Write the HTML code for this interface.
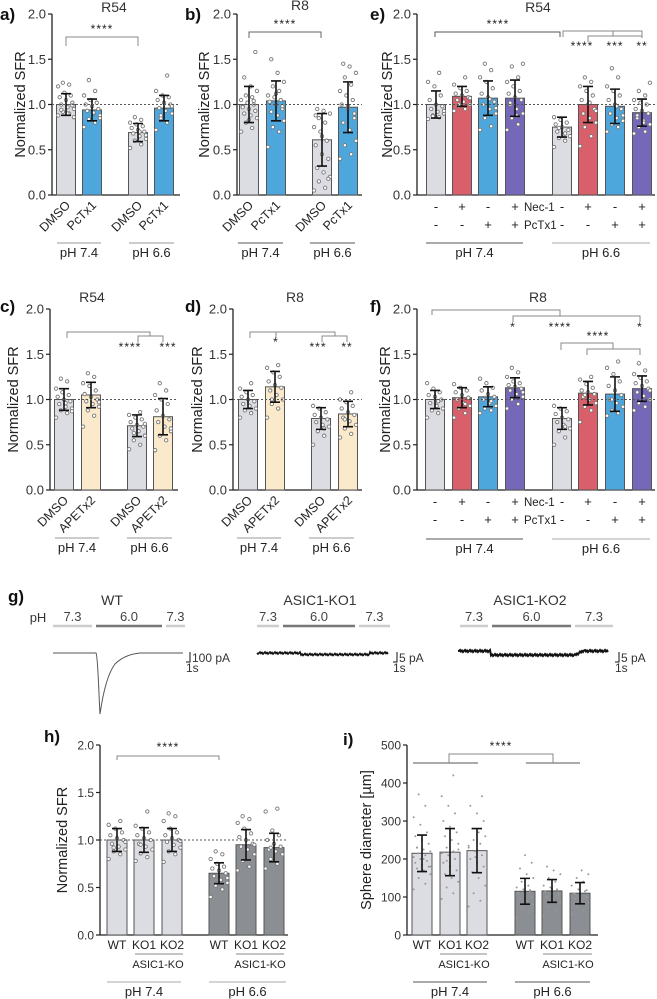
<!DOCTYPE html>
<html><head><meta charset="utf-8"><style>
html,body{margin:0;padding:0;background:#fff;}
svg{display:block;font-family:"Liberation Sans",sans-serif;}
</style></head><body>
<svg id="fig" width="657" height="999" viewBox="0 0 657 999" xmlns="http://www.w3.org/2000/svg"></svg>
<script>
// ---------- DATA ----------
const aCats=['DMSO','PcTx1','DMSO','PcTx1'];
const aMeans=[1.0,0.94,0.69,0.96];
const aSD=[0.12,0.12,0.10,0.14];
const aDots=[[0.88,0.9,0.92,0.95,0.97,1.0,1.02,1.05,1.08,1.1,1.13,1.2,1.22,1.24,0.86,0.9,0.94,0.99],[0.75,0.8,0.84,0.88,0.9,0.93,0.95,0.98,1.0,1.02,1.05,1.1,1.15,1.27,0.85,0.91],[0.52,0.56,0.6,0.62,0.65,0.68,0.7,0.72,0.74,0.76,0.78,0.8,0.83,0.86,0.66,0.7],[0.72,0.8,0.85,0.9,0.93,0.96,1.0,1.02,1.05,1.08,1.1,1.15,1.32,0.88,0.98]];
const bCats=['DMSO','PcTx1','DMSO','PcTx1'];
const bMeans=[1.0,1.04,0.61,0.97];
const bSD=[0.2,0.22,0.29,0.28];
const bDots=[[0.7,0.74,0.8,0.85,0.88,0.9,0.93,0.95,0.98,1.0,1.02,1.05,1.08,1.1,1.15,1.2,1.3,1.58,0.83,0.97,1.04],[0.53,0.7,0.75,0.82,0.88,0.92,0.95,1.0,1.03,1.05,1.08,1.1,1.15,1.2,1.25,1.35,1.5,0.98,1.12],[0.05,0.08,0.15,0.2,0.25,0.3,0.4,0.45,0.55,0.6,0.7,0.75,0.8,0.85,0.9,0.93,0.95,0.18,0.65,0.88],[0.4,0.45,0.55,0.6,0.72,0.8,0.9,0.95,1.0,1.05,1.1,1.15,1.22,1.3,1.35,1.42,1.45,0.85,0.98]];
const eNec=['-','+','-','+','-','+','-','+'];
const ePc=['-','-','+','+','-','-','+','+'];
const eMeans=[1.0,1.09,1.07,1.07,0.75,1.0,0.98,0.91];
const eSD=[0.15,0.11,0.19,0.2,0.11,0.2,0.19,0.15];
const eDots=[[0.84,0.86,0.88,0.9,0.92,0.95,0.98,1.0,1.05,1.1,1.2,1.25,1.35,0.87,0.93],[0.93,0.95,0.98,1.0,1.03,1.05,1.08,1.1,1.12,1.15,1.18,1.22,1.3,1.0,1.07],[0.72,0.76,0.85,0.9,0.95,1.0,1.03,1.08,1.12,1.18,1.25,1.3,1.38,1.45,0.96,1.06],[0.72,0.78,0.85,0.9,0.95,1.0,1.05,1.08,1.12,1.15,1.2,1.25,1.3,1.42,1.45,0.88,1.02],[0.53,0.6,0.63,0.65,0.67,0.7,0.72,0.75,0.78,0.8,0.83,0.86,0.68,0.74],[0.54,0.65,0.75,0.8,0.85,0.9,0.95,1.0,1.05,1.1,1.15,1.2,1.25,1.3,0.93,1.02],[0.7,0.75,0.78,0.82,0.85,0.9,0.95,1.0,1.05,1.1,1.15,1.2,1.3,1.4,0.88,0.98],[0.68,0.7,0.75,0.78,0.82,0.85,0.9,0.93,0.95,1.0,1.02,1.05,1.1,1.15,1.24,0.8,0.88]];
const cCats=['DMSO','APETx2','DMSO','APETx2'];
const cMeans=[1.0,1.05,0.71,0.81];
const cSD=[0.12,0.14,0.12,0.2];
const cDots=[[0.8,0.85,0.88,0.9,0.92,0.95,0.98,1.0,1.03,1.05,1.08,1.12,1.2,1.23,0.87,0.96],[0.7,0.82,0.88,0.92,0.95,0.98,1.0,1.03,1.06,1.1,1.15,1.18,1.25,1.29,0.97],[0.45,0.5,0.55,0.6,0.65,0.68,0.7,0.72,0.75,0.78,0.8,0.83,0.86,0.63,0.73],[0.44,0.55,0.6,0.65,0.7,0.75,0.78,0.82,0.88,0.95,1.0,1.05,1.1,1.18,0.68]];
const dCats=['DMSO','APETx2','DMSO','APETx2'];
const dMeans=[1.0,1.14,0.79,0.84];
const dSD=[0.1,0.17,0.12,0.14];
const dDots=[[0.8,0.85,0.88,0.9,0.93,0.95,0.98,1.0,1.03,1.05,1.08,1.12,1.18],[0.8,0.9,0.95,1.0,1.05,1.1,1.13,1.16,1.2,1.25,1.3,1.35,1.38,1.0],[0.5,0.6,0.65,0.7,0.72,0.75,0.78,0.8,0.83,0.86,0.9,0.93,0.68],[0.58,0.62,0.68,0.72,0.76,0.8,0.83,0.86,0.9,0.93,0.97,1.0,1.08,0.78]];
const fMeans=[1.0,1.02,1.03,1.13,0.79,1.07,1.06,1.12];
const fSD=[0.1,0.11,0.11,0.11,0.12,0.13,0.19,0.14];
const fDots=[[0.8,0.85,0.88,0.9,0.93,0.96,1.0,1.03,1.05,1.08,1.12,1.18,0.98],[0.8,0.85,0.9,0.93,0.96,1.0,1.02,1.05,1.08,1.1,1.13,1.17,0.95],[0.85,0.88,0.9,0.93,0.96,1.0,1.03,1.06,1.1,1.13,1.18,1.23,0.98],[0.9,0.95,1.0,1.03,1.06,1.1,1.12,1.14,1.16,1.18,1.2,1.25,1.3,1.35,1.08],[0.5,0.58,0.65,0.68,0.72,0.75,0.78,0.8,0.84,0.87,0.9,0.93,0.7],[0.75,0.88,0.92,0.96,1.0,1.03,1.06,1.08,1.1,1.13,1.17,1.22,1.25,1.05],[0.82,0.85,0.88,0.92,0.96,1.0,1.05,1.1,1.15,1.2,1.28,1.35,1.42,1.0],[0.88,0.92,0.96,1.0,1.04,1.08,1.12,1.15,1.18,1.2,1.24,1.28,1.32,1.4,1.1]];
const hCats=['WT','KO1','KO2','WT','KO1','KO2'];
const hMeans=[1.0,1.0,1.0,0.65,0.95,0.92];
const hSD=[0.12,0.13,0.12,0.11,0.16,0.15];
const hDots=[[0.8,0.85,0.88,0.9,0.93,0.96,1.0,1.02,1.05,1.08,1.12,1.16,1.2,0.92,0.98],[0.78,0.82,0.86,0.9,0.93,0.96,1.0,1.02,1.05,1.08,1.12,1.15,1.3,0.95],[0.77,0.85,0.88,0.92,0.95,0.98,1.0,1.02,1.05,1.08,1.12,1.2,1.25,1.28,0.99],[0.4,0.48,0.52,0.55,0.58,0.62,0.65,0.68,0.7,0.72,0.75,0.8,0.85,0.88,0.6],[0.68,0.72,0.78,0.85,0.9,0.93,0.96,1.0,1.03,1.07,1.12,1.18,1.22,1.25,0.95],[0.7,0.75,0.8,0.85,0.88,0.9,0.93,0.96,1.0,1.05,1.1,1.3,1.33,0.92]];
const iCats=['WT','KO1','KO2','WT','KO1','KO2'];
const iMeans=[215,218,222,115,116,110];
const iSD=[48,62,58,34,30,28];
const iDots=[[120,135,150,160,170,175,180,185,190,195,200,205,210,215,220,225,230,240,250,260,270,290,310,340,370,180,200,230],[95,110,125,140,150,160,170,180,190,200,210,215,220,230,240,250,260,270,285,300,320,340,365,420,195,225],[75,90,110,130,150,165,180,190,200,210,220,230,240,250,260,270,280,300,320,340,365,205,235],[45,60,70,80,90,95,100,105,110,115,120,125,130,140,150,160,175,190,210,112,118],[50,65,75,85,95,100,105,110,115,120,125,130,140,150,160,170,180,112,122],[55,65,75,85,90,95,100,105,110,115,120,130,140,150,160,170,108,118]];
const sfrTicks=[0,0.5,1,1.5,2];
const sfrTickLabels=['0.0','0.5','1.0','1.5','2.0'];
const iTicks=[0,100,200,300,400,500];
const iTickLabels=['0','100','200','300','400','500'];

// ---------- DRAWING ----------
const NS='http://www.w3.org/2000/svg';
const svg=document.getElementById('fig');
function el(tag,attrs,parent){const e=document.createElementNS(NS,tag);for(const k in attrs)e.setAttribute(k,attrs[k]);(parent||svg).appendChild(e);return e;}
function txt(s,x,y,size,anchor,parent,extra){const t=el('text',Object.assign({x:x,y:y,'font-size':size,'text-anchor':anchor||'middle',fill:'#222'},extra||{}),parent);t.textContent=s;return t;}
const GREY='#dcdde2',BLUE='#4ea7dc',RED='#d9606b',PURP='#7568b9',PEACH='#fbe9cb',DARK='#8b8e92';

function panel(name,g){
  const grp=el('g',{});
  
  
  const y=v=>g.yBot-(v/g.max)*(g.yBot-g.yTop);
  const ya=el('line',{x1:g.ax,x2:g.ax,y1:g.yTop,y2:g.yBot,stroke:'#222','stroke-width':1.3},grp);
  
  const xa=el('line',{x1:g.ax,x2:g.ax1,y1:g.yBot,y2:g.yBot,stroke:'#222','stroke-width':1.3},grp);
  
  g.ticks.forEach((t,i)=>{
    el('line',{x1:g.ax-4,x2:g.ax,y1:y(t),y2:y(t),stroke:'#222','stroke-width':1.2},grp);
    const tl=txt(g.tickLabels[i],g.ax-6,y(t)+4.5,g.tickSize||13,'end',grp,{fill:'#333'});
    
  });
  const yt=txt(g.ytitle,g.ytx,(g.yTop+g.yBot)/2,g.ytSize||14.5,'middle',grp,{transform:`rotate(-90 ${g.ytx} ${(g.yTop+g.yBot)/2})`});
  
  g.means.forEach((m,i)=>{
    const cx=g.cx[i],bw=g.bw;
    const r=el('rect',{x:cx-bw/2,y:y(m),width:bw,height:g.yBot-y(m),fill:g.colors[i],stroke:'#555','stroke-width':1},grp);
    
    g.dots[i].forEach((v,j)=>{
      const dx=(((j*7)%11)-5)*(bw/12);
      if(g.small){
        const c=el('circle',{cx:cx+dx,cy:y(v),r:1,fill:'#999'},grp);
        
      }else{
        const c=el('circle',{cx:cx+dx,cy:y(v),r:1.7,fill:'#fff',stroke:'#777','stroke-width':0.9},grp);
        
      }
    });
    const sd=g.sd[i];
    const eb=el('path',{d:`M${cx} ${y(m-sd)}V${y(m+sd)}M${cx-5} ${y(m-sd)}H${cx+5}M${cx-5} ${y(m+sd)}H${cx+5}`,stroke:'#111','stroke-width':1.6,fill:'none'},grp);
    
  });
  if(g.ref){
    const rl=el('line',{x1:g.ax,x2:g.ax1,y1:y(1),y2:y(1),stroke:'#555','stroke-width':1,'stroke-dasharray':'2,2'},grp);
    
  }
  if(g.rotLabels){
    g.rotLabels.forEach((s,i)=>{
      const x=g.cx[i]+5,yy=g.yBot+11;
      const t=txt(s,x,yy,12.5,'end',grp,{transform:`rotate(-45 ${x} ${yy})`});
      
    });
  }
  if(g.flatLabels){
    g.flatLabels.forEach((s,i)=>{
      const t=txt(s,g.cx[i],g.yBot+14,12,'middle',grp);
      
    });
  }
  return {grp,y};
}
function line(x1,y1,x2,y2,c,w){return el('line',{x1,y1,x2,y2,stroke:c||'#888','stroke-width':w||1});}
function pathD(d,c){return el('path',{d,stroke:c||'#888','stroke-width':1,fill:'none'});}
function stars(s,x,y){const t=txt(s,x,y,12,'middle',null,{'letter-spacing':'1'});return t;}
function letter(s,x,y){const t=txt(s,x,y,17,'start',null,{'font-weight':'bold',fill:'#111'});}
function title(s,x,y){const t=txt(s,x,y,14,'middle',null,{fill:'#333'});}
function phGroup(x1,x2,yl,s,c){line(x1,yl,x2,yl,c||'#999',1);const t=txt(s,(x1+x2)/2,yl+14,13,'middle');}

// Row 1
letter('a)',0,20);title('R54',114,12);
panel('panel-a',{ax:52,ax1:180,yTop:14,yBot:195,max:2,ticks:sfrTicks,tickLabels:sfrTickLabels,ytitle:'Normalized SFR',ytx:25,cx:[66,92,138,164],bw:19,means:aMeans,sd:aSD,dots:aDots,colors:[GREY,BLUE,GREY,BLUE],ref:true,rotLabels:aCats});
pathD('M66 46V37H138V46');stars('****',102,33);
phGroup(57,101,243,'pH 7.4');phGroup(129,174,243,'pH 6.6');

letter('b)',185,20);title('R8',300,10);
panel('panel-b',{ax:237,ax1:362,yTop:14,yBot:195,max:2,ticks:sfrTicks,tickLabels:sfrTickLabels,ytitle:'Normalized SFR',ytx:209,cx:[249,276,322,348],bw:19,means:bMeans,sd:bSD,dots:bDots,colors:[GREY,BLUE,GREY,BLUE],ref:true,rotLabels:bCats});
pathD('M249 38V32H321V38','#666');stars('****',285,28);
phGroup(238,283,243,'pH 7.4','#555');phGroup(310,355,243,'pH 6.6','#555');

letter('e)',370,20);title('R54',538,12);
panel('panel-e',{ax:417,ax1:655,yTop:14,yBot:195,max:2,ticks:sfrTicks,tickLabels:sfrTickLabels,ytitle:'Normalized SFR',ytx:392,cx:[436,462,488,515,562,588,615,642],bw:19,means:eMeans,sd:eSD,dots:eDots,colors:[GREY,RED,BLUE,PURP,GREY,RED,BLUE,PURP],ref:true});
pathD('M435 37V32H560V37','#555');stars('****',498,28);
pathD('M563 37V31H642V38');pathD('M588 42V36H642');pathD('M613 31V36');
stars('****',582,50);stars('***',615,50);stars('**',642,50);
[436,462,488,515,562,588,615,642].forEach((x,i)=>{const a=txt(eNec[i],x,211,13,'middle');const b=txt(ePc[i],x,229,13,'middle');});
txt('Nec-1',524,211,11.5,'start');
txt('PcTx1',524,229,11.5,'start');
phGroup(426,523,243,'pH 7.4','#555');phGroup(552,650,243,'pH 6.6','#aaa');

// Row 2
letter('c)',0,312);title('R54',92,302);
panel('panel-c',{ax:50,ax1:178,yTop:309,yBot:490,max:2,ticks:sfrTicks,tickLabels:sfrTickLabels,ytitle:'Normalized SFR',ytx:18,cx:[64,91,137,163],bw:19,means:cMeans,sd:cSD,dots:cDots,colors:[GREY,PEACH,GREY,PEACH],ref:true,rotLabels:cCats});
pathD('M67 338V332H150V336');pathD('M138 342V336H163V342');stars('****',130,351);stars('***',168,351);
phGroup(55,99,538,'pH 7.4');phGroup(127,172,538,'pH 6.6');

letter('d)',185,312);title('R8',295,302);
panel('panel-d',{ax:233,ax1:362,yTop:309,yBot:490,max:2,ticks:sfrTicks,tickLabels:sfrTickLabels,ytitle:'Normalized SFR',ytx:202,cx:[248,275,321,348],bw:19,means:dMeans,sd:dSD,dots:dDots,colors:[GREY,PEACH,GREY,PEACH],ref:true,rotLabels:dCats});
pathD('M250 338V332H335V336');pathD('M276 332V338');pathD('M322 342V336H347V342');stars('*',276,346);stars('***',318,351);stars('**',347,351);
phGroup(237,281,538,'pH 7.4');phGroup(309,354,538,'pH 6.6');

letter('f)',370,312);title('R8',538,302);
panel('panel-f',{ax:417,ax1:655,yTop:309,yBot:490,max:2,ticks:sfrTicks,tickLabels:sfrTickLabels,ytitle:'Normalized SFR',ytx:390,cx:[435,462,488,515,562,588,615,642],bw:19,means:fMeans,sd:fSD,dots:fDots,colors:[GREY,RED,BLUE,PURP,GREY,RED,BLUE,PURP],ref:true});
pathD('M432 315V310H560V316');pathD('M513 322V316H640V322');
stars('*',513,331);stars('****',560,331);stars('*',640,331);
pathD('M561 350V343H613V349');pathD('M587 355V349H640V355');stars('****',598,340);
[435,462,488,515,562,588,615,642].forEach((x,i)=>{const a=txt(eNec[i],x,506,13,'middle');const b=txt(ePc[i],x,524,13,'middle');});
txt('Nec-1',524,506,11.5,'start');
txt('PcTx1',524,524,11.5,'start');
phGroup(426,523,539,'pH 7.4','#555');phGroup(552,650,539,'pH 6.6','#aaa');

// g) traces
letter('g)',8,602);
title('WT',112,605);title('ASIC1-KO1',320,605);title('ASIC1-KO2',530,605);
txt('pH',38,622,13,'middle',null,{fill:'#333'});
[[53,92,166,185],[257,279,359,390],[460,488,575,613]].forEach((p,k)=>{
  const mids=[p[1]+4,p[2]-4];
  const L='#ccc',D='#777';
  el('line',{x1:p[0],x2:p[1],y1:626,y2:626,stroke:L,'stroke-width':2.5});
  el('line',{x1:mids[0],x2:mids[1],y1:626,y2:626,stroke:D,'stroke-width':2.5});
  el('line',{x1:p[2],x2:p[3],y1:626,y2:626,stroke:L,'stroke-width':2.5});
  txt('7.3',(p[0]+p[1])/2,621,13,'middle',null,{fill:'#444'});
  txt('6.0',(mids[0]+mids[1])/2,621,13,'middle',null,{fill:'#444'});
  txt('7.3',(p[2]+p[3])/2,621,13,'middle',null,{fill:'#444'});
});
const wt=el('path',{d:'M53 653H96C98 656 99 700 100 714C102 700 106 676 115 664C122 657 130 654 140 653H183',stroke:'#555','stroke-width':1,fill:'none'});

function noisy(x0,x1,base,dip){let d='M'+x0+' '+base;for(let x=x0+1;x<=x1;x+=1){const n=((x*13)%5-2)*0.5;d+=' L'+x+' '+(base+n+dip(x)).toFixed(1);}return d;}
const k1=el('path',{d:noisy(257,388,653,x=>(x>300&&x<370?1.5:0)),stroke:'#111','stroke-width':1.6,fill:'none'});

const k2=el('path',{d:noisy(458,608,651,x=>(x>490&&x<575?4:(x>=575&&x<585?4-(x-575)*0.5:0))),stroke:'#111','stroke-width':2,fill:'none'});

[[186,'100 pA'],[393,'5 pA'],[615,'5 pA']].forEach(s=>{
  pathD(`M${s[0]} 662H${s[0]+4}V652`,'#111');
  txt(s[1],s[0]+6,662,12,'start',null,{fill:'#333'});
  txt('1s',s[0],672,12,'start',null,{fill:'#333'});
});

// h)
letter('h)',44,742);
panel('panel-h',{ax:100,ax1:288,yTop:745,yBot:935,max:2,ticks:sfrTicks,tickLabels:sfrTickLabels,tickSize:12,ytitle:'Normalized SFR',ytx:67,cx:[117,144,172,219,246,274],bw:20,means:hMeans,sd:hSD,dots:hDots,colors:[GREY,GREY,GREY,DARK,DARK,DARK],ref:true,flatLabels:hCats});
pathD('M117 760V756H219V760');stars('****',168,751);
line(135,954,183,954,'#888');txt('ASIC1-KO',158,968,11,'middle');
line(236,954,284,954,'#888');txt('ASIC1-KO',260,968,11,'middle');
phGroup(107,181,982,'pH 7.4','#aaa');phGroup(209,286,982,'pH 6.6','#aaa');

// i)
letter('i)',343,745);
panel('panel-i',{ax:407,ax1:598,yTop:745,yBot:935,max:500,ticks:iTicks,tickLabels:iTickLabels,tickSize:12,ytitle:'Sphere diameter [µm]',ytx:371,cx:[422,450,477,525,552,580],bw:20,means:iMeans,sd:iSD,dots:iDots,colors:[GREY,GREY,GREY,DARK,DARK,DARK],ref:false,small:true,flatLabels:iCats});
line(413,763,478,763,'#555');line(526,763,580,763,'#555');pathD('M449 763V754H553V763','#888');stars('****',501,750);
line(440,954,487,954,'#888');txt('ASIC1-KO',464,968,11,'middle');
line(543,954,592,954,'#888');txt('ASIC1-KO',568,968,11,'middle');
phGroup(413,487,982,'pH 7.4','#555');phGroup(515,590,982,'pH 6.6','#555');
</script>
</body></html>
